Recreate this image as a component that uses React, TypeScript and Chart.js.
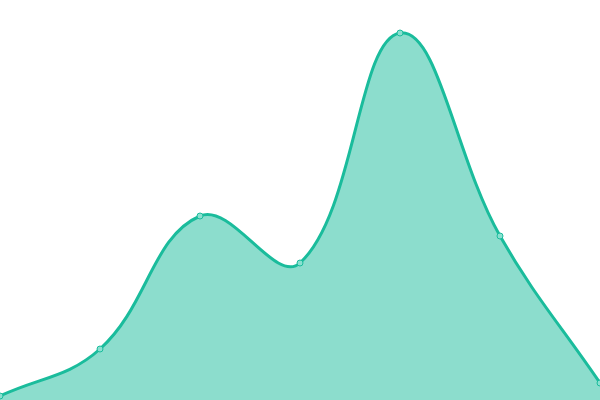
import React, { useEffect, useRef } from "react";
import { Chart, registerables } from "chart.js";

Chart.register(...registerables);

const labels = ["A", "B", "C", "D", "E", "F", "G"];
const values = [1, 12.75, 46, 34.25, 91.75, 41, 4.25];
const yMin = 0;
const yMax = 100;

export default function App() {
  const ref = useRef<HTMLCanvasElement>(null);
  useEffect(() => {
    document.body.style.margin = "0";
    const chart = new Chart(ref.current!, {
      type: "line",
      data: {
        labels,
        datasets: [
          {
            data: values,
            borderColor: "rgb(26,188,156)",
            backgroundColor: "rgba(26,188,156,0.5)",
            pointBackgroundColor: "rgb(138,224,208)",
            pointBorderColor: "rgb(26,188,156)",
            pointRadius: 3,
            pointBorderWidth: 1,
            borderWidth: 3,
            fill: true,
            tension: 0.4,
          },
        ],
      },
      options: {
        responsive: false,
        animation: false,
        layout: { padding: 0, autoPadding: false },
        plugins: { legend: { display: false }, tooltip: { enabled: false } },
        scales: {
          x: { display: false },
          y: { display: false, min: yMin, max: yMax },
        },
      },
    });
    return () => chart.destroy();
  }, []);
  return <canvas ref={ref} width={600} height={400} style={{ display: "block" }} />;
}
